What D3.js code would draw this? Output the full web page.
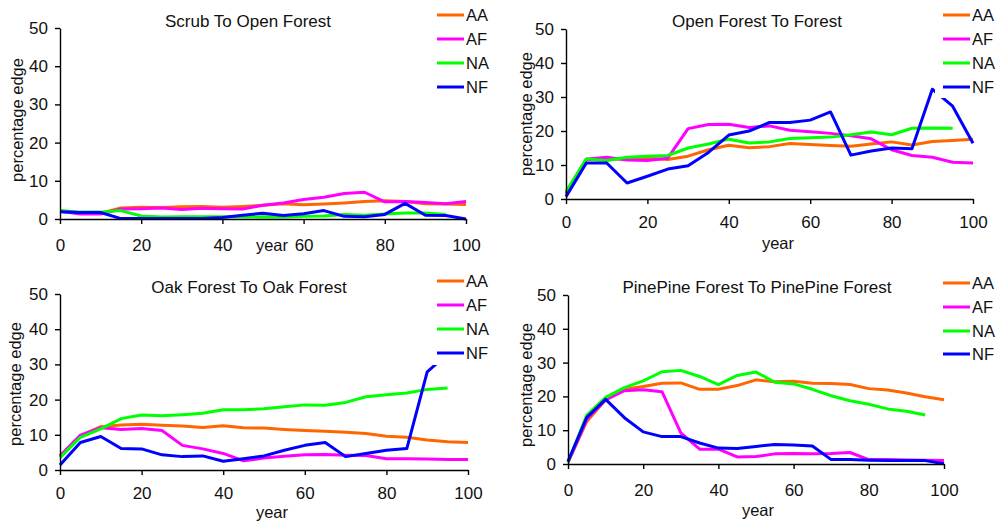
<!DOCTYPE html>
<html>
<head>
<meta charset="utf-8">
<script src="https://cdn.jsdelivr.net/npm/d3@7"></script>
<style>
  html, body { margin: 0; padding: 0; background: #fff; }
  svg { display: block; font-family: "Liberation Sans", Arial, sans-serif; }
</style>
</head>
<body>
<svg id="chart" width="997" height="522"></svg>
<script>
// ---------- data ----------
const years = [0,5,10,15,20,25,30,35,40,45,50,55,60,65,70,75,80,85,90,95,100];
const seriesNames = ["AA","AF","NA","NF"];
const seriesColors = ["#ff6600","#ff00ff","#00ff00","#0000ff"];
const yTicks = [0,10,20,30,40,50];
const xTicks = [0,20,40,60,80,100];
const panelTitles = ["Scrub To Open Forest","Open Forest To Forest","Oak Forest To Oak Forest","PinePine Forest To PinePine Forest"];

const scrubAA = [2.0,1.6,1.5,2.9,3.1,3.0,3.2,3.3,3.1,3.3,3.6,4.0,3.7,3.9,4.2,4.6,4.8,4.6,4.0,3.9,3.8];
const scrubAF = [2.0,1.3,1.3,2.6,2.7,2.9,2.5,2.8,2.7,2.6,3.6,4.2,5.1,5.7,6.7,7.0,4.5,4.6,4.3,4.0,4.6];
const scrubNA = [2.2,1.8,1.8,2.2,0.8,0.5,0.6,0.6,0.6,0.5,0.6,0.5,0.7,0.8,1.2,1.0,1.3,1.6,1.6,1.2,null];
const scrubNF = [1.9,1.7,1.7,0.1,0.1,0.1,0.1,0.1,0.4,1.0,1.5,0.9,1.4,2.2,0.7,0.6,1.2,4.1,1.0,0.9,0.0];

const openAA = [1.8,11.7,11.5,12.0,12.0,11.6,12.6,14.5,15.8,15.1,15.4,16.3,16.0,15.7,15.5,16.2,16.8,15.9,16.9,17.2,17.6];
const openAF = [1.5,11.7,12.3,11.5,11.3,12.0,20.7,21.9,22.0,21.0,21.5,20.2,19.8,19.3,18.6,17.7,14.5,12.8,12.3,10.8,10.6];
const openNA = [2.2,11.8,11.3,12.3,12.6,12.8,15.0,16.2,17.6,16.5,16.8,17.8,18.0,18.2,18.9,19.7,18.9,20.8,20.9,20.8,null];
const openNF = [0.7,10.6,10.6,4.7,6.7,8.8,9.8,13.7,18.8,20.0,22.5,22.5,23.2,25.6,12.9,14.1,15.0,14.8,32.3,27.3,16.4];

const oakAA = [3.8,9.7,12.3,12.8,13.0,12.7,12.5,12.1,12.6,12.0,11.9,11.5,11.2,11.0,10.7,10.4,9.6,9.3,8.5,8.0,7.8];
const oakAF = [4.0,9.9,12.0,11.5,11.8,11.2,7.0,6.0,4.7,2.6,3.4,3.9,4.3,4.4,4.2,4.1,3.2,3.2,3.1,3.0,3.0];
const oakNA = [3.5,9.3,11.7,14.6,15.6,15.4,15.7,16.1,17.1,17.1,17.4,18.0,18.5,18.4,19.2,20.8,21.4,21.9,22.9,23.3,null];
const oakNF = [1.4,7.8,9.5,6.1,6.0,4.3,3.8,4.0,2.5,3.2,4.0,5.6,7.0,7.8,3.8,4.7,5.6,6.1,27.9,33.0,34.0];

const pineAA = [0.5,12.6,19.0,22.1,22.9,23.9,24.0,22.1,22.1,23.2,24.9,24.3,24.5,23.9,23.8,23.5,22.3,21.9,21.0,19.9,19.0];
const pineAF = [0.5,13.3,19.0,21.7,22.0,21.4,9.2,4.4,4.4,2.1,2.2,3.0,3.1,3.0,3.1,3.4,1.3,1.3,1.2,1.1,1.0];
const pineNA = [0.5,14.5,19.7,22.6,24.6,27.3,27.7,25.9,23.5,26.2,27.2,24.2,23.7,22.1,20.2,18.7,17.7,16.3,15.6,14.5,null];
const pineNF = [0.8,13.8,19.1,13.7,9.5,8.1,8.1,6.2,4.7,4.6,5.2,5.8,5.6,5.3,1.3,1.3,1.1,1.0,1.0,1.0,0.1];

const panelData = [
  [scrubAA, scrubAF, scrubNA, scrubNF],
  [openAA, openAF, openNA, openNF],
  [oakAA, oakAF, oakNA, oakNF],
  [pineAA, pineAF, pineNA, pineNF]
];

// ---------- layout ----------
const layouts = [
  {x0:60,  x1:466, y0:219, y1:28,  titleX:248, titleY:21,  yLabX:17,  yLabY:120, yearX:272, yearY:245, tickOff:26, legX:437, legY:[15,39,63,87],     boxTop:0,   boxBot:99},
  {x0:566, x1:973, y0:199, y1:29,  titleX:757, titleY:21,  yLabX:526, yLabY:114, yearX:778, yearY:243, tickOff:23, legX:943, legY:[15,39,63,87],     boxTop:0,   boxBot:98},
  {x0:60,  x1:468, y0:470, y1:294, titleX:249, titleY:287, yLabX:15,  yLabY:384, yearX:272, yearY:512, tickOff:23, legX:437, legY:[281,305,329,353], boxTop:266, boxBot:365},
  {x0:568, x1:944, y0:464, y1:295, titleX:757, titleY:287, yLabX:526, yLabY:385, yearX:758, yearY:510, tickOff:26, legX:943, legY:[283,307,331,354], boxTop:266, boxBot:365}
];

const svg = d3.select("#chart");

layouts.forEach((L, p) => {
  const g = svg.append("g");
  const x = d3.scaleLinear().domain([0,100]).range([L.x0, L.x1]);
  const y = d3.scaleLinear().domain([0,50]).range([L.y0, L.y1]);

  // lines
  const line = d3.line()
    .defined(d => d[1] !== null)
    .x(d => x(d[0]))
    .y(d => y(d[1]));
  panelData[p].forEach((vals, s) => {
    g.append("path")
      .datum(years.map((yr, i) => [yr, vals[i]]))
      .attr("fill", "none")
      .attr("stroke", seriesColors[s])
      .attr("stroke-width", 3)
      .attr("stroke-linejoin", "round")
      .attr("d", line);
  });

  // axes
  const yAxis = g.append("g")
    .attr("transform", `translate(${L.x0},0)`)
    .call(d3.axisLeft(y).tickValues(yTicks).tickSize(5).tickSizeOuter(0).tickPadding(7));
  const xAxis = g.append("g")
    .attr("transform", `translate(0,${L.y0})`)
    .call(d3.axisBottom(x).tickValues(xTicks).tickSize(5).tickSizeOuter(0).tickPadding(L.tickOff - 5 - 6));
  [yAxis, xAxis].forEach(a => {
    a.select(".domain").attr("stroke", "#000").attr("stroke-width", 1.4);
    a.selectAll(".tick line").attr("stroke", "#000").attr("stroke-width", 1.4);
    a.selectAll(".tick text").attr("fill", "#111").style("font-size", "17px")
      .style("font-family", '"Liberation Sans", Arial, sans-serif');
  });

  // legend box (white, covers plot)
  g.append("rect")
    .attr("x", L.legX - 8).attr("y", L.boxTop)
    .attr("width", 997 - (L.legX - 8)).attr("height", L.boxBot - L.boxTop)
    .attr("fill", "#fff");
  seriesNames.forEach((name, s) => {
    g.append("line")
      .attr("x1", L.legX).attr("x2", L.legX + 27)
      .attr("y1", L.legY[s]).attr("y2", L.legY[s])
      .attr("stroke", seriesColors[s]).attr("stroke-width", 3);
    g.append("text")
      .attr("x", L.legX + 29).attr("y", L.legY[s])
      .attr("dy", "0.36em")
      .style("font-size", "16.5px").attr("fill", "#111")
      .text(name);
  });

  // title
  g.append("text")
    .attr("x", L.titleX).attr("y", L.titleY).attr("dy", "0.36em")
    .attr("text-anchor", "middle").style("font-size", "17px").attr("fill", "#111")
    .text(panelTitles[p]);

  // y label
  g.append("text")
    .attr("transform", `translate(${L.yLabX},${L.yLabY}) rotate(-90)`)
    .attr("dy", "0.36em")
    .attr("text-anchor", "middle").style("font-size", "16.5px").attr("fill", "#111")
    .text("percentage edge");

  // x label
  g.append("text")
    .attr("x", L.yearX).attr("y", L.yearY).attr("dy", "0.36em")
    .attr("text-anchor", "middle").style("font-size", "16.5px").attr("fill", "#111")
    .text("year");
});
</script>
</body>
</html>
